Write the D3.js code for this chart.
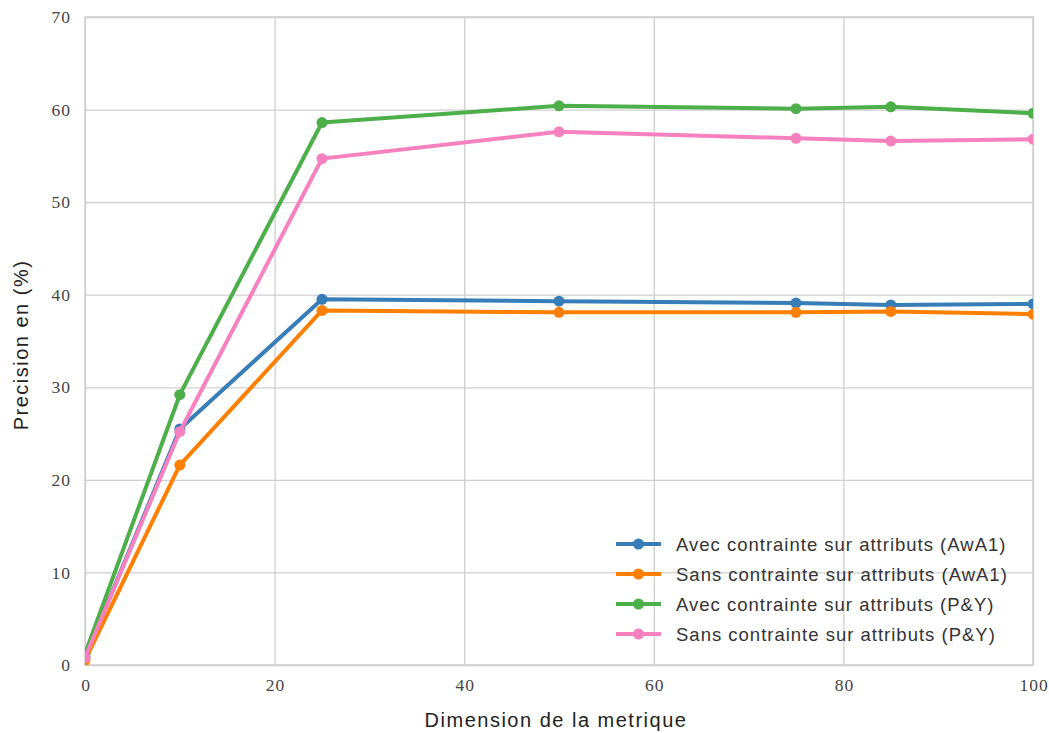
<!DOCTYPE html>
<html><head><meta charset="utf-8">
<script src="https://cdn.jsdelivr.net/npm/d3@7"></script>
<style>body{margin:0;background:#fff}</style>
</head><body>
<svg id="c" width="1049" height="733"></svg>
<script>
const dims = [0, 10, 25, 50, 75, 85, 100];
const seriesNames = [
  "Avec contrainte sur attributs (AwA1)",
  "Sans contrainte sur attributs (AwA1)",
  "Avec contrainte sur attributs (P&Y)",
  "Sans contrainte sur attributs (P&Y)"
];
const avecAwA1 = [0.8, 25.5, 39.5, 39.3, 39.1, 38.9, 39.0];
const sansAwA1 = [0.5, 21.6, 38.3, 38.1, 38.1, 38.2, 37.9];
const avecPY   = [1.2, 29.2, 58.6, 60.4, 60.1, 60.3, 59.6];
const sansPY   = [0.8, 25.2, 54.7, 57.6, 56.9, 56.6, 56.8];
const colors = ["#377eb8", "#ff7f00", "#4daf4a", "#f781bf"];
const xTicks = [0, 20, 40, 60, 80, 100];
const yTicks = [0, 10, 20, 30, 40, 50, 60, 70];

const allSeries = [avecAwA1, sansAwA1, avecPY, sansPY];
const svg = d3.select("#c");
const L = 85, R = 1033, T = 17, B = 665;
const x = d3.scaleLinear().domain([0, 100]).range([L, R]);
const y = d3.scaleLinear().domain([0, 70]).range([B, T]);
const SERIF = "'Liberation Serif', 'Times New Roman', serif";
const SANS = "'Liberation Sans', Arial, sans-serif";

svg.append("defs").append("clipPath").attr("id", "clip")
  .append("rect").attr("x", L).attr("y", T).attr("width", R - L).attr("height", B - T);

// grid
const gx = svg.append("g").attr("transform", `translate(0,${B})`)
  .call(d3.axisBottom(x).tickValues(xTicks).tickSize(-(B - T)).tickPadding(14).tickFormat(d3.format("d")));
const gy = svg.append("g").attr("transform", `translate(${L},0)`)
  .call(d3.axisLeft(y).tickValues(yTicks).tickSize(-(R - L)).tickPadding(14).tickFormat(d3.format("d")));
[gx, gy].forEach(g => {
  g.attr("font-family", null);
  g.select(".domain").remove();
  g.selectAll(".tick line").attr("stroke", "#cfcfcf").attr("stroke-width", 1.3);
  g.selectAll(".tick text")
    .style("font-family", SERIF).style("font-size", "17.5px").style("letter-spacing", "1px")
    .attr("fill", "#444");
});
gx.selectAll(".tick text").attr("dx", "0.5px");
svg.append("rect").attr("x", L).attr("y", T).attr("width", R - L).attr("height", B - T)
  .attr("fill", "none").attr("stroke", "#cfcfcf").attr("stroke-width", 1.5);

// lines
const plot = svg.append("g").attr("clip-path", "url(#clip)");
const line = d3.line().x((d, i) => x(dims[i])).y(d => y(d));
allSeries.forEach((s, k) => {
  plot.append("path").datum(s).attr("d", line).attr("fill", "none")
    .attr("stroke", colors[k]).attr("stroke-width", 4).attr("stroke-linejoin", "round");
  plot.selectAll(null).data(s).enter().append("circle")
    .attr("cx", (d, i) => x(dims[i])).attr("cy", d => y(d)).attr("r", 5.5).attr("fill", colors[k]);
});

// axis labels
svg.append("text").attr("x", (L + R) / 2 - 3).attr("y", 727).attr("text-anchor", "middle")
  .style("font-family", SANS).style("font-size", "20px").style("letter-spacing", "1.5px").attr("fill", "#222")
  .text("Dimension de la metrique");
svg.append("text").attr("transform", `translate(28,345) rotate(-90)`).attr("text-anchor", "middle")
  .style("font-family", SANS).style("font-size", "20px").style("letter-spacing", "1.5px").attr("fill", "#222")
  .text("Precision en (%)");

// legend
const lg = svg.append("g");
seriesNames.forEach((n, k) => {
  const yy = 544 + k * 30;
  lg.append("line").attr("x1", 616).attr("x2", 661).attr("y1", yy).attr("y2", yy)
    .attr("stroke", colors[k]).attr("stroke-width", 4);
  lg.append("circle").attr("cx", 638.5).attr("cy", yy).attr("r", 5.5).attr("fill", colors[k]);
  lg.append("text").attr("x", 676).attr("y", yy + 6.5)
    .style("font-family", SANS).style("font-size", "18.5px").style("letter-spacing", "1px").attr("fill", "#333")
    .text(n);
});
</script>
</body></html>
